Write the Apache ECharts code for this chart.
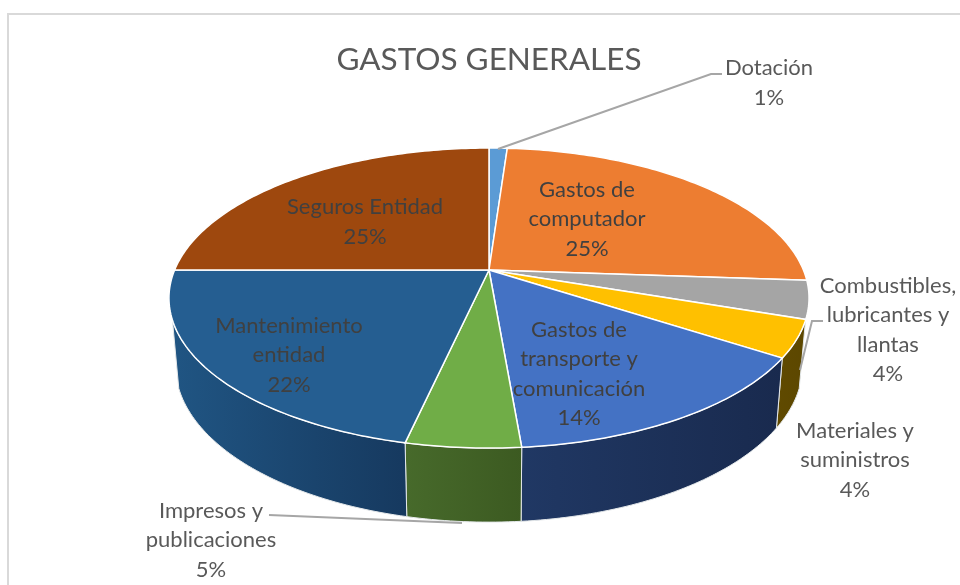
<!DOCTYPE html>
<html>
<head>
<meta charset="utf-8">
<title>Gastos generales</title>
<script src="https://cdn.jsdelivr.net/npm/echarts@6/dist/echarts.min.js"></script>
<style>
  html, body { margin: 0; padding: 0; background: #fff; }
  #container { width: 960px; height: 585px; }
</style>
</head>
<body>
<div id="container"></div>
<script>
  const chartTitle = 'GASTOS GENERALES'
  const categories = ['Dotación', 'Gastos de\ncomputador', 'Combustibles,\nlubricantes y\nllantas', 'Materiales y\nsuministros',
    'Gastos de\ntransporte y\ncomunicación', 'Impresos y\npublicaciones', 'Mantenimiento\nentidad', 'Seguros Entidad']
  // percentages, clockwise from 12 o'clock
  const values = [1.1, 25, 4.1, 4, 14.45, 4.85, 21.5, 25]

  const topColors = ['#5b9bd5', '#ed7d31', '#a5a5a5', '#ffc000', '#4472c4', '#70ad47', '#255e91', '#9e480e']
  const sideColors = [null, null, null, ['#604a00', '#5c4700'], ['#203864', '#192a4e'], ['#476a2b', '#3c5a21'], ['#205583', '#16395f'], null]
  // label centres [x, y] in page pixels, same order as categories
  const labelCenters = [[769, 83], [587, 219], [888, 330], [855, 460], [579, 374], [211, 540], [289, 355], [365, 222]]
  const innerLabel = [false, true, false, false, true, false, true, true]

  const total = values.reduce((a, b) => a + b, 0)

  // perspective view of the disc
  const cx = 489, cy = 270, radiusX = 314.4, depthY = 144.8, persp = 0.187
  const sideFrom = 109, sideTo = 251 // side wall is only visible between these angles

  function project(deg, bottom) {
    const t = deg * Math.PI / 180
    const x = Math.sin(t), y = -Math.cos(t)
    const w = 1 - persp * y
    const px = radiusX * x / w, py = depthY * y / w
    if (bottom) return [cx + px * 0.98, cy + py * 1.045 + 66]
    return [cx + px, cy + py]
  }

  function arc(from, to, bottom) {
    const pts = []
    const n = Math.max(2, Math.ceil(to - from))
    for (let i = 0; i <= n; i++) pts.push(project(from + (to - from) * i / n, bottom))
    return pts
  }

  let acc = 0
  const sliceData = values.map(v => {
    const from = acc / total * 360
    acc += v
    return [from, acc / total * 360]
  })

  function renderSide(params, api) {
    const i = params.dataIndex
    const from = Math.max(api.value(0), sideFrom)
    const to = Math.min(api.value(1), sideTo)
    if (!sideColors[i] || to <= from) return { type: 'group', children: [] }
    const pts = arc(from, to, false).concat(arc(from, to, true).reverse())
    return {
      type: 'polygon',
      shape: { points: pts },
      style: {
        fill: new echarts.graphic.LinearGradient(0, 0, 1, 0, [
          { offset: 0, color: sideColors[i][0] },
          { offset: 1, color: sideColors[i][1] }
        ]),
        stroke: '#e4e8ea',
        lineWidth: 1
      }
    }
  }

  function renderTop(params, api) {
    const pts = [[cx, cy]].concat(arc(api.value(0), api.value(1), false))
    return {
      type: 'polygon',
      shape: { points: pts },
      style: { fill: topColors[params.dataIndex], stroke: '#fff', lineWidth: 1.5 }
    }
  }

  function renderLabel(params) {
    const i = params.dataIndex
    return {
      type: 'text',
      style: {
        text: categories[i] + '\n' + Math.round(values[i] / total * 100) + '%',
        x: labelCenters[i][0],
        y: labelCenters[i][1],
        align: 'center',
        verticalAlign: 'middle',
        font: '22px Lato',
        lineHeight: 29.5,
        fill: innerLabel[i] ? '#404040' : '#595959'
      }
    }
  }

  function leader(points) {
    return { type: 'polyline', z: 5, shape: { points: points }, style: { fill: null, stroke: '#a6a6a6', lineWidth: 2 } }
  }

  const myChart = echarts.init(document.getElementById('container'))
  myChart.setOption({
    animation: false,
    backgroundColor: '#fff',
    title: {
      text: chartTitle,
      left: 484,
      top: 39,
      textAlign: 'center',
      textStyle: { fontFamily: 'Lato', fontSize: 31.5, fontWeight: 'normal', color: '#595959' }
    },
    graphic: [
      // chart frame
      { type: 'polyline', z: 0, shape: { points: [[8, 585], [8, 14], [960, 14]] }, style: { fill: null, stroke: '#d9d9d9', lineWidth: 2 } },
      leader([[498, 149], [711, 74], [722, 74]]),
      leader([[823, 321], [812, 321], [800, 370]]),
      leader([[269, 515], [462, 523]])
    ],
    series: [
      { type: 'custom', coordinateSystem: 'none', z: 1, silent: true, data: sliceData, renderItem: renderSide },
      { type: 'custom', coordinateSystem: 'none', z: 2, silent: true, data: sliceData, renderItem: renderTop },
      { type: 'custom', coordinateSystem: 'none', z: 6, silent: true, data: sliceData, renderItem: renderLabel }
    ]
  })
</script>
</body>
</html>
